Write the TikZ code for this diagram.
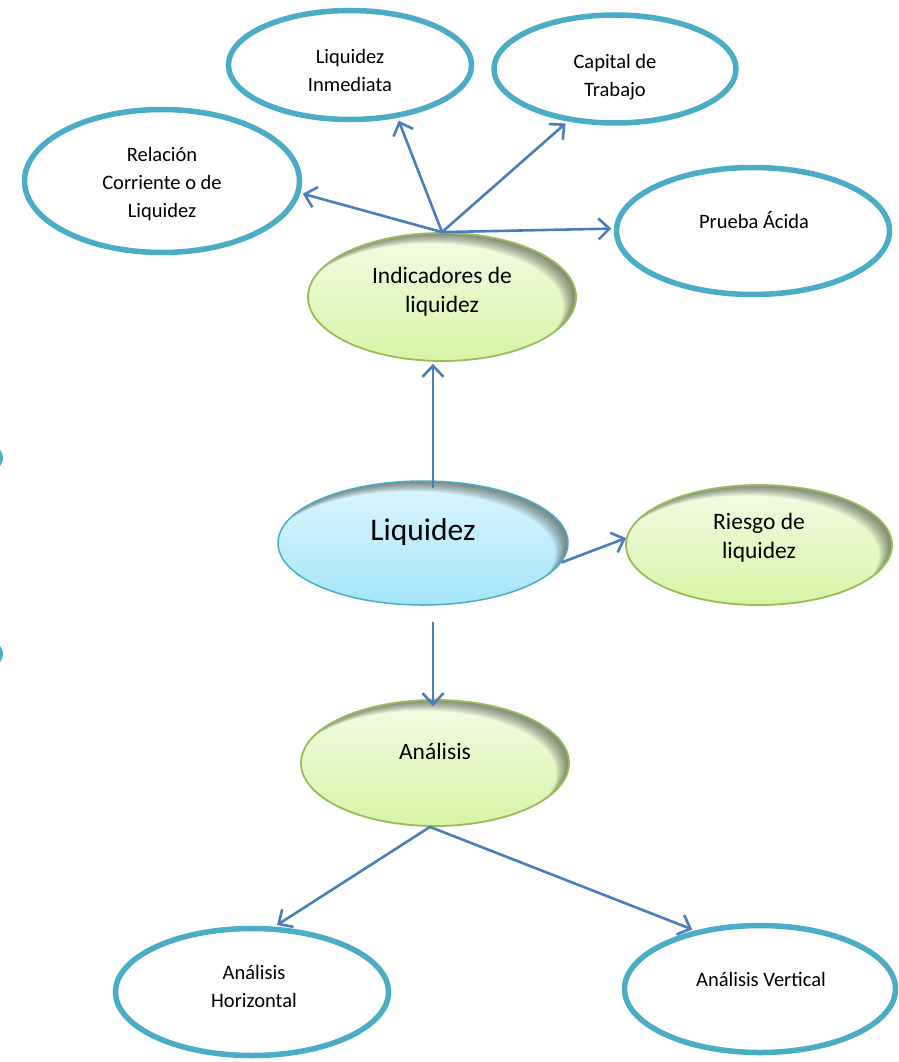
\documentclass[tikz,border=0pt]{standalone}
\usepackage{fontspec}
\setmainfont{Carlito}
\usetikzlibrary{shapes.geometric,arrows.meta}

\definecolor{ringteal}{HTML}{4BACC6}
\definecolor{arrowblue}{HTML}{4A7EBB}
\definecolor{leafedge}{HTML}{9BBB59}
\definecolor{leaftop}{HTML}{F2FCE6}
\definecolor{leafbot}{HTML}{D6F5A6}
\definecolor{coretop}{HTML}{DDF6FD}
\definecolor{corebot}{HTML}{A4E5F8}
\definecolor{shadowgray}{HTML}{3A3F36}

\tikzset{
  % thick teal outline, no fill
  ring/.style 2 args={ellipse, draw=ringteal, line width=5.5pt,
    minimum width={2*#1pt}, minimum height={2*#2pt}, inner sep=0pt},
  % soft dark rim inside the upper right part of a filled ellipse
  innershadow/.style 2 args={path picture={
    \foreach \k in {1,...,14}{
      \fill[shadowgray, opacity=0.058, even odd rule]
        ([shift={(-400pt,-400pt)}]path picture bounding box.center) rectangle
        ([shift={(400pt,400pt)}]path picture bounding box.center)
        ([shift={(-0.9*\k pt,-0.75*\k pt)}]path picture bounding box.center)
          ellipse [x radius=#1pt, y radius=#2pt];
    }}},
  leaf/.style 2 args={ellipse, draw=leafedge, line width=1.8pt,
    top color=leaftop, bottom color=leafbot,
    minimum width={2*#1pt}, minimum height={2*#2pt}, inner sep=0pt,
    innershadow={#1}{#2}},
  core/.style 2 args={ellipse, draw=ringteal, line width=1.5pt,
    top color=coretop, bottom color=corebot,
    minimum width={2*#1pt}, minimum height={2*#2pt}, inner sep=0pt,
    innershadow={#1}{#2}},
  lbl/.style={align=center, inner sep=0pt, font=\fontsize{20.5}{28}\selectfont},
  biglbl/.style={align=center, inner sep=0pt, font=\fontsize{23.5}{29}\selectfont},
  arr/.style={draw=arrowblue, line width=2.6pt,
    -{Straight Barb[length=11pt,width=21pt]}},
}

\begin{document}
\begin{tikzpicture}[x=1pt,y=-1pt]
  \useasboundingbox (0,0) rectangle (898,1062);
  \fill[white] (0,0) rectangle (898,1062);
  \clip (0,0) rectangle (898,1062);

  % outline ellipses
  \node[ring={121.5}{54.5}] (li) at (350,65) {};
  \node[ring={121}{54}]     (ct) at (615,69) {};
  \node[ring={137.5}{71.5}] (rc) at (162,181) {};
  \node[ring={136.5}{63.5}] (pa) at (753,231) {};
  \node[ring={136.5}{63.5}] (ah) at (252,992) {};
  \node[ring={135.5}{63.5}] (av) at (760,989) {};

  % rims of ellipses lying beyond the left edge
  \draw[ringteal, line width=4pt] (-100,458) ellipse [x radius=101, y radius=30];
  \draw[ringteal, line width=4pt] (-100,654) ellipse [x radius=101, y radius=30];

  % filled ellipses
  \node[leaf={134}{64}] (ind) at (442,297) {};
  \node[leaf={133}{60}] (ris) at (759,545) {};
  \node[leaf={134}{63}] (ana) at (435,763) {};
  \node[core={145}{62}] (liq) at (423,543) {};

  % labels
  \node[lbl] (t-li) at (350,70) {Liquidez\\Inmediata};
  \node[lbl] (t-ct) at (615,77) {Capital de\\Trabajo};
  \node[lbl] (t-rc) at (162,184) {Relación\\Corriente o de\\Liquidez};
  \node[lbl] (t-pa) at (754,220) {Prueba Ácida};
  \node[lbl] (t-ah) at (254,986) {Análisis\\Horizontal};
  \node[lbl] (t-av) at (761,979) {Análisis Vertical};
  \node[biglbl] (t-ind) at (442,292) {Indicadores de\\liquidez};
  \node[biglbl] (t-ris) at (759,538) {Riesgo de\\liquidez};
  \node[biglbl] (t-ana) at (435,751) {Análisis};
  \node[align=center, inner sep=0pt, font=\fontsize{31.5}{36}\selectfont]
    (t-liq) at (423,532) {Liquidez};

  % connectors
  \draw[arr, shorten >=3pt] (ind.north) -- (li.-48);
  \draw[arr, shorten >=3pt] (ind.north) -- (ct.-132);
  \draw[arr, shorten >=2.5pt] (ind.north) -- (rc.-5);
  \draw[arr, shorten >=2.5pt] (ind.north) -- (pa.179);
  \draw[arr] ([xshift=10pt,yshift=-8pt]liq.north) -- ([xshift=-9pt,yshift=-2pt]ind.south);
  \draw[arr] (liq.-8) -- (ris.177);
  \draw[arr] ([xshift=10pt,yshift=-16pt]liq.south) -- ([xshift=-2pt,yshift=-7pt]ana.north);
  \draw[arr, shorten >=3pt] ([xshift=-5pt]ana.south) -- (ah.71);
  \draw[arr, shorten >=3pt] ([xshift=-5pt]ana.south) -- (av.138);
\end{tikzpicture}
\end{document}
